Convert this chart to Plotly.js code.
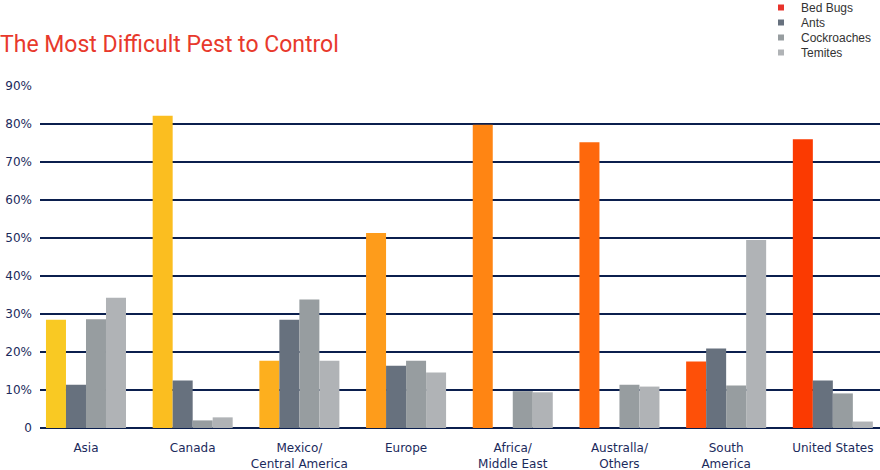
<!DOCTYPE html>
<html>
<head>
<meta charset="utf-8">
<script src="https://cdn.plot.ly/plotly-3.0.1.min.js"></script>
<style>html,body{margin:0;padding:0;background:#fff;}#chart{width:880px;height:470px;}</style>
</head>
<body>
<div id="chart"></div>
<script>
const regions = ["Asia", "Canada", "Mexico/<br>Central America", "Europe", "Africa/<br>Middle East", "Australla/<br>Others", "South<br>America", "United States"];
const bedBugs = [28.5, 82.2, 17.7, 51.3, 79.8, 75.2, 17.5, 76.0];
const ants = [11.4, 12.5, 28.5, 16.4, 0, 0, 20.9, 12.5];
const cockroaches = [28.6, 2.0, 33.8, 17.7, 9.7, 11.4, 11.2, 9.1];
const termites = [34.3, 2.8, 17.7, 14.6, 9.4, 10.9, 49.5, 1.7];
const bedBugColors = ["#F9C923", "#FBBE20", "#FDAF1E", "#FE9C1B", "#FF8513", "#FE680C", "#FE5008", "#FB3A01"];
const seriesNames = ["Bed Bugs", "Ants", "Cockroaches", "Temites"];
const seriesColors = ["#E8332B", "#67717E", "#979DA0", "#B0B3B6"];
const yTicks = [0, 10, 20, 30, 40, 50, 60, 70, 80, 90];
const yTickText = ["0", "10%", "20%", "30%", "40%", "50%", "60%", "70%", "80%", "90%"];

const values = [bedBugs, ants, cockroaches, termites];
const traces = values.map((v, i) => ({
  type: "bar",
  x: regions,
  y: v,
  name: seriesNames[i],
  showlegend: false,
  marker: {color: i === 0 ? bedBugColors : seriesColors[i], line: {width: 0}},
  hoverinfo: "x+y+name"
}));
const legendIds = ["legend", "legend2", "legend3", "legend4"];
seriesNames.forEach((n, i) => {
  traces.push({
    type: "scatter", mode: "markers", x: [null], y: [null], name: n,
    legend: legendIds[i],
    marker: {symbol: "square", size: 6, color: seriesColors[i]},
    showlegend: true, hoverinfo: "skip"
  });
});

const layout = {
  width: 880, height: 470,
  margin: {l: 40, r: 0, t: 86, b: 42, autoexpand: false},
  paper_bgcolor: "#ffffff", plot_bgcolor: "#ffffff",
  barmode: "group", bargap: 0.25, bargroupgap: 0,
  title: {
    text: "The Most Difficult Pest to Control",
    font: {family: "Roboto, sans-serif", size: 23, color: "#E8392C"},
    x: 0, xref: "container", xanchor: "left", y: 0.907, yref: "container", yanchor: "middle", pad: {l: 0}
  },
  xaxis: {
    type: "category",
    range: [-0.431, 7.442],
    showgrid: false, zeroline: false, showline: false,
    ticks: "", ticklabelstandoff: 11,
    tickfont: {family: "DejaVu Sans, sans-serif", size: 12, color: "#1B2A5C"},
    fixedrange: true
  },
  yaxis: {
    range: [0, 90],
    tickvals: yTicks, ticktext: yTickText,
    showgrid: true, gridcolor: "#0B1F4E", gridwidth: 1.2,
    zeroline: true, zerolinecolor: "#0B1F4E", zerolinewidth: 1.5,
    showline: false, ticks: "", ticklabelstandoff: 7,
    tickfont: {family: "DejaVu Sans, sans-serif", size: 12, color: "#1B2A5C"},
    fixedrange: true
  },
  showlegend: true
};
const legendCenters = [7, 22, 37, 52];
legendIds.forEach((id, i) => {
  layout[id] = {
    x: (761 - 40) / 840, xref: "paper",
    y: 1 + (86 - (legendCenters[i] - 14)) / 342, yref: "paper",
    xanchor: "left", yanchor: "top",
    font: {family: "Liberation Sans, Arial, sans-serif", size: 12, color: "#333333"},
    bgcolor: "rgba(0,0,0,0)", itemwidth: 30
  };
});

Plotly.newPlot("chart", traces, layout, {displayModeBar: false, staticPlot: true});
</script>
</body>
</html>
